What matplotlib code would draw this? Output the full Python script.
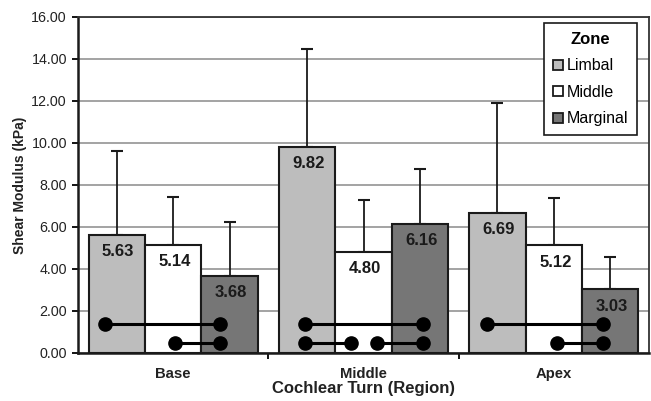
import matplotlib
matplotlib.use("Agg")
import matplotlib.pyplot as plt
from matplotlib.patches import Patch
import numpy as np

plt.rcParams['font.family'] = ['Liberation Sans', 'DejaVu Sans']

regions = ["Base", "Middle", "Apex"]
zones = ["Limbal", "Middle", "Marginal"]
limbal = [5.63, 9.82, 6.69]
middle = [5.14, 4.80, 5.12]
marginal = [3.68, 6.16, 3.03]
# upper end of each error bar (mean + SD)
limbal_top = [9.63, 14.46, 11.89]
middle_top = [7.44, 7.29, 7.37]
marginal_top = [6.24, 8.75, 4.56]
zone_colors = ["#bdbdbd", "#ffffff", "#767676"]

# significance brackets: (x start, x end, y level) in category units
sig_pairs = [
    (-0.356, 0.247, 1.4), (0.010, 0.247, 0.5),
    (0.695, 1.315, 1.4), (0.695, 0.935, 0.5), (1.072, 1.315, 0.5),
    (1.647, 2.256, 1.4), (2.016, 2.256, 0.5),
]

yticks = np.arange(0, 16.01, 2)

fig = plt.figure(figsize=(6.51, 4.01), dpi=100)
ax = fig.add_axes([78 / 651, 48 / 401, 571 / 651, 336 / 401])

x = np.arange(len(regions))
w = 0.296
series = [limbal, middle, marginal]
tops = [limbal_top, middle_top, marginal_top]

for i, (vals, top, col) in enumerate(zip(series, tops, zone_colors)):
    xs = x + (i - 1) * w
    ax.bar(xs, vals, width=w, color=col, edgecolor="#1a1a1a", linewidth=1.5, zorder=2)
    err = np.array(top) - np.array(vals)
    ax.errorbar(xs, vals, yerr=[np.zeros_like(err), err], fmt="none",
                ecolor="#1a1a1a", elinewidth=1.3, capsize=4, capthick=1.5, zorder=1.5)
    for xi, v in zip(xs, vals):
        ax.annotate(f"{v:.2f}", (xi, v), xytext=(1, -12), textcoords="offset points",
                    ha="center", va="center", fontsize=12, fontweight="bold",
                    color="#1a1a1a", zorder=4)

for x0, x1, yv in sig_pairs:
    ax.plot([x0, x1], [yv, yv], color="black", lw=2.2, marker="o", markersize=9.5,
            solid_capstyle="butt", zorder=5)

ax.set_xlim(-0.5, 2.5)
ax.set_ylim(0, 16)
ax.set_yticks(yticks)
ax.set_yticklabels([f"{t:.2f}" for t in yticks], fontsize=10.3, color="#222222")
ax.yaxis.grid(True, color="#8a8a8a", lw=1.1, zorder=0)
ax.set_axisbelow(True)

ax.set_xticks([0.5, 1.5])
ax.set_xticklabels([])
ax.set_xticks(x, minor=True)
ax.set_xticklabels(regions, minor=True, fontsize=10.7, fontweight="bold", color="#222222")
ax.tick_params(axis="x", which="minor", length=0, pad=10)
ax.tick_params(axis="x", which="major", length=4, width=1.3, direction="out")
ax.tick_params(axis="y", length=4, width=1.3, direction="out", pad=4)

ax.set_xlabel("Cochlear Turn (Region)", fontsize=12, fontweight="bold", color="#222222", labelpad=0)
ax.set_ylabel("Shear Modulus (kPa)", fontsize=10, fontweight="bold", color="#222222", labelpad=3)

for side in ["left", "bottom"]:
    ax.spines[side].set_linewidth(1.8)
    ax.spines[side].set_color("#1a1a1a")
for side in ["top", "right"]:
    ax.spines[side].set_linewidth(1.3)
    ax.spines[side].set_color("#333333")

handles = [Patch(facecolor=c, edgecolor="#1a1a1a", linewidth=1.3) for c in zone_colors]
leg = ax.legend(handles, zones, title="Zone", loc="upper right",
                bbox_to_anchor=(0.9790, 0.982), borderaxespad=0, fontsize=11.5,
                title_fontproperties={"weight": "bold", "size": 12},
                fancybox=False, framealpha=1, edgecolor="#1a1a1a",
                handlelength=0.6, handleheight=0.6, handletextpad=0.25,
                labelspacing=0.72, borderpad=0.55)
leg.get_frame().set_linewidth(1.2)
leg.set_zorder(6)

fig.savefig("out.png", dpi=100)
